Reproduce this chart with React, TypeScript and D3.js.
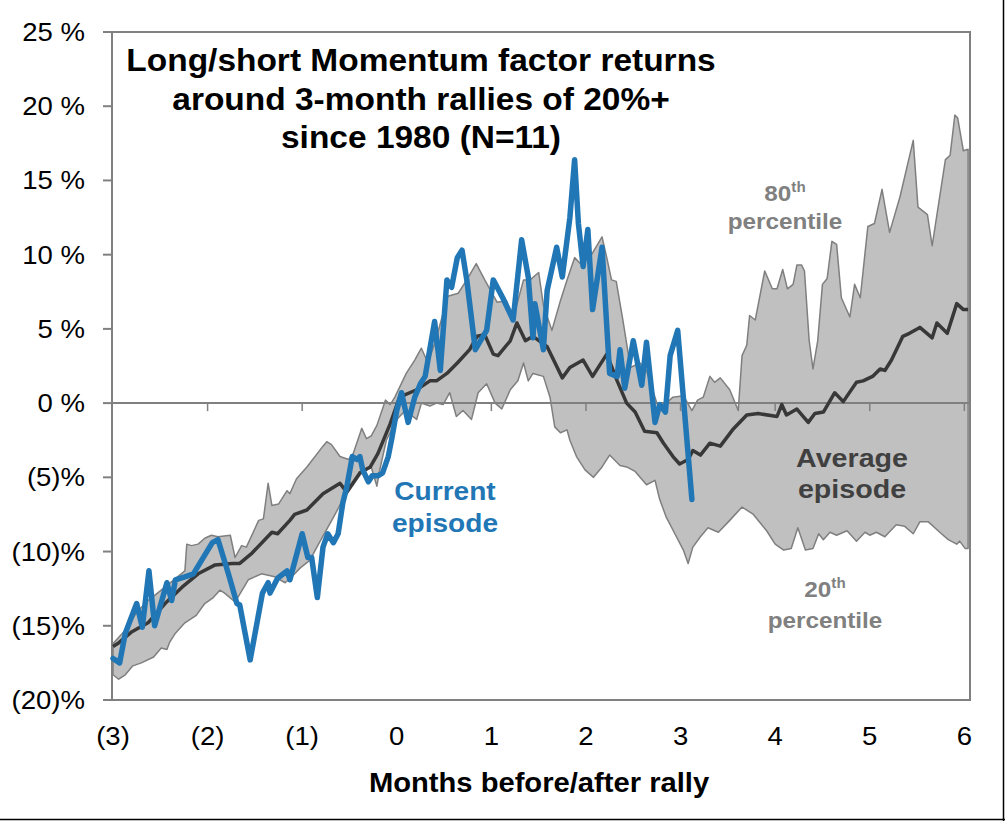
import * as d3 from 'd3';

// Months relative to the rally (x) and long/short momentum return in % (y)
const currentMonths = [-3.0, -2.93, -2.87, -2.75, -2.69, -2.62, -2.56, -2.43, -2.38, -2.34, -2.24, -2.15, -1.95, -1.89, -1.78, -1.69, -1.66, -1.55, -1.42, -1.36, -1.34, -1.26, -1.16, -1.13, -1.0, -0.94, -0.9, -0.84, -0.78, -0.73, -0.67, -0.62, -0.57, -0.53, -0.47, -0.42, -0.39, -0.36, -0.3, -0.26, -0.2, -0.15, -0.09, -0.05, 0.0, 0.05, 0.12, 0.19, 0.25, 0.3, 0.4, 0.46, 0.53, 0.58, 0.64, 0.69, 0.74, 0.83, 0.95, 1.02, 1.12, 1.23, 1.32, 1.39, 1.44, 1.46, 1.55, 1.59, 1.69, 1.75, 1.83, 1.88, 1.92, 1.97, 2.02, 2.07, 2.17, 2.25, 2.33, 2.36, 2.41, 2.5, 2.59, 2.64, 2.73, 2.78, 2.84, 2.89, 2.97, 3.12];
const currentValues = [-17.2, -17.5, -15.5, -13.5, -15.1, -11.3, -15.0, -12.1, -13.3, -11.9, -11.7, -11.5, -9.4, -9.2, -11.5, -13.5, -13.6, -17.3, -12.8, -12.1, -12.8, -11.8, -11.3, -11.9, -8.8, -10.4, -10.4, -13.1, -9.7, -8.8, -9.4, -8.8, -6.7, -5.7, -3.6, -3.8, -3.6, -4.5, -5.3, -4.9, -4.9, -4.7, -3.6, -2.3, -0.5, 0.7, -1.3, 0.4, 1.3, 1.8, 5.5, 2.2, 8.3, 7.8, 9.8, 10.3, 8.3, 3.6, 4.9, 8.3, 7.1, 5.6, 11.0, 8.5, 4.4, 6.7, 3.6, 7.6, 10.5, 8.5, 12.5, 16.4, 12.1, 9.2, 11.7, 6.3, 10.5, 2.0, 1.8, 3.6, 1.0, 4.2, 1.2, 4.1, -1.3, -0.1, -0.6, 3.2, 4.9, -6.5];

const averageMonths = [-3.0, -2.95, -2.8, -2.63, -2.45, -2.27, -2.1, -1.92, -1.74, -1.66, -1.53, -1.32, -1.26, -1.13, -1.08, -0.95, -0.78, -0.6, -0.53, -0.39, -0.28, -0.2, -0.07, 0.03, 0.21, 0.35, 0.42, 0.53, 0.64, 0.77, 0.85, 0.93, 1.02, 1.07, 1.2, 1.27, 1.36, 1.44, 1.59, 1.75, 1.83, 1.97, 2.07, 2.22, 2.33, 2.43, 2.52, 2.62, 2.75, 2.82, 2.92, 2.99, 3.08, 3.13, 3.21, 3.31, 3.42, 3.55, 3.7, 3.82, 4.02, 4.07, 4.12, 4.23, 4.35, 4.42, 4.51, 4.63, 4.72, 4.86, 4.93, 5.03, 5.11, 5.16, 5.23, 5.35, 5.42, 5.53, 5.66, 5.71, 5.82, 5.92, 5.99, 6.04];
const averageValues = [-16.4, -16.2, -15.4, -14.8, -13.5, -12.4, -11.5, -10.9, -10.8, -10.8, -10.1, -8.7, -8.8, -7.9, -7.5, -7.2, -6.1, -5.4, -6.0, -4.7, -4.3, -3.4, -1.4, 0.4, 0.9, 1.5, 1.5, 2.0, 2.7, 3.6, 4.5, 4.6, 3.3, 3.2, 4.2, 5.4, 4.2, 4.5, 3.8, 1.7, 2.4, 2.9, 1.8, 3.3, 1.5, 0.0, -0.6, -1.9, -2.0, -2.7, -3.6, -4.1, -3.8, -3.2, -3.5, -2.7, -2.9, -1.8, -0.8, -0.7, -0.9, -0.1, -0.8, -0.4, -1.3, -0.7, -0.6, 0.7, 0.1, 1.4, 1.5, 1.8, 2.3, 2.2, 2.9, 4.5, 4.7, 5.1, 4.4, 5.4, 4.7, 6.7, 6.3, 6.3];

const p80Months = [-3.0, -2.87, -2.75, -2.63, -2.45, -2.24, -2.22, -2.17, -2.1, -2.03, -1.96, -1.89, -1.76, -1.71, -1.64, -1.59, -1.46, -1.41, -1.36, -1.32, -1.25, -1.16, -1.13, -1.06, -0.95, -0.78, -0.74, -0.69, -0.6, -0.51, -0.46, -0.37, -0.32, -0.27, -0.21, -0.12, -0.07, -0.02, 0.1, 0.19, 0.26, 0.33, 0.41, 0.54, 0.65, 0.74, 0.84, 0.93, 1.06, 1.16, 1.23, 1.34, 1.41, 1.5, 1.55, 1.64, 1.73, 1.8, 1.88, 1.94, 2.04, 2.17, 2.22, 2.27, 2.32, 2.39, 2.47, 2.57, 2.64, 2.75, 2.85, 2.92, 3.03, 3.12, 3.18, 3.24, 3.31, 3.36, 3.42, 3.52, 3.61, 3.65, 3.7, 3.73, 3.79, 3.89, 3.97, 4.02, 4.08, 4.13, 4.19, 4.23, 4.28, 4.31, 4.36, 4.4, 4.45, 4.5, 4.55, 4.6, 4.65, 4.7, 4.79, 4.84, 4.9, 4.98, 5.05, 5.13, 5.21, 5.32, 5.46, 5.51, 5.61, 5.66, 5.8, 5.85, 5.9, 5.93, 5.99, 6.04];
const p80Values = [-16.2, -15.3, -14.1, -13.3, -12.4, -11.3, -9.5, -9.6, -9.5, -9.1, -8.9, -9.0, -8.9, -10.4, -9.6, -9.7, -7.9, -7.8, -5.4, -6.9, -6.8, -5.9, -6.1, -5.1, -4.3, -2.9, -2.6, -2.8, -3.6, -3.8, -3.4, -1.7, -2.4, -2.2, -1.5, 0.2, -0.1, 0.4, 2.0, 2.9, 3.7, 2.7, 4.2, 7.2, 7.4, 8.3, 9.4, 8.3, 6.8, 6.9, 5.7, 8.3, 8.3, 8.8, 6.6, 4.9, 6.9, 8.3, 9.8, 9.4, 9.8, 11.2, 9.8, 8.3, 8.2, 5.6, 2.4, 2.7, 2.2, 0.0, 0.0, 0.4, 0.5, -0.5, 0.2, 0.4, 1.8, 1.4, 1.7, 0.9, -0.5, 3.2, 3.9, 5.9, 5.6, 8.9, 7.7, 7.7, 9.0, 7.7, 8.0, 9.3, 9.3, 8.9, 4.2, 2.3, 4.2, 8.0, 8.4, 10.9, 10.7, 7.1, 5.8, 8.0, 7.1, 11.9, 12.1, 14.4, 11.5, 13.9, 17.7, 13.2, 12.7, 10.6, 16.4, 16.7, 19.4, 19.2, 17.0, 17.1];

const p20Months = [-3.0, -2.94, -2.87, -2.79, -2.7, -2.57, -2.49, -2.43, -2.4, -2.34, -2.24, -2.12, -2.03, -1.94, -1.87, -1.82, -1.71, -1.57, -1.43, -1.29, -1.18, -1.11, -1.02, -0.92, -0.81, -0.67, -0.57, -0.46, -0.35, -0.27, -0.21, -0.18, -0.11, 0.0, 0.09, 0.21, 0.26, 0.35, 0.42, 0.49, 0.56, 0.63, 0.7, 0.79, 0.86, 0.95, 1.04, 1.11, 1.2, 1.28, 1.34, 1.39, 1.44, 1.55, 1.62, 1.67, 1.73, 1.8, 1.83, 1.9, 1.99, 2.08, 2.17, 2.25, 2.36, 2.43, 2.52, 2.64, 2.73, 2.78, 2.85, 2.94, 3.03, 3.08, 3.13, 3.21, 3.29, 3.4, 3.52, 3.65, 3.77, 3.91, 4.0, 4.09, 4.17, 4.24, 4.32, 4.4, 4.46, 4.51, 4.58, 4.65, 4.76, 4.86, 4.95, 5.0, 5.07, 5.16, 5.28, 5.37, 5.46, 5.53, 5.62, 5.74, 5.83, 5.92, 5.95, 6.01, 6.04];
const p20Values = [-18.3, -18.6, -18.3, -17.7, -17.5, -17.1, -16.5, -16.6, -16.1, -15.5, -14.8, -14.3, -13.5, -13.1, -12.6, -12.8, -13.4, -11.9, -11.5, -11.7, -12.1, -11.7, -11.1, -10.6, -9.3, -7.7, -6.5, -5.5, -4.5, -4.3, -5.6, -4.5, -2.5, -1.1, -0.5, -1.1, 0.0, -0.2, 0.0, -0.1, 0.7, -0.9, -0.5, -1.1, 0.7, 1.3, 0.0, -0.4, 0.9, 1.5, 2.7, 1.5, 2.0, 1.8, 0.4, -1.6, -2.0, -1.8, -2.5, -3.6, -4.5, -5.0, -4.3, -3.5, -4.2, -4.3, -4.6, -5.5, -5.2, -6.5, -7.7, -8.8, -9.9, -10.8, -9.7, -9.0, -8.4, -8.7, -7.9, -7.0, -7.5, -8.6, -9.5, -9.9, -9.8, -8.4, -9.9, -9.8, -8.8, -9.2, -8.7, -8.9, -8.6, -9.3, -8.7, -8.9, -8.7, -9.0, -8.2, -8.3, -8.8, -8.0, -8.0, -8.7, -9.2, -9.5, -9.3, -9.8, -9.8];

const yTicks = [25, 20, 15, 10, 5, 0, -5, -10, -15, -20];
const yTickLabels = ['25 %', '20 %', '15 %', '10 %', '5 %', '0 %', '(5)%', '(10)%', '(15)%', '(20)%'];
const xTicks = [-3, -2, -1, 0, 1, 2, 3, 4, 5, 6];
const xTickLabels = ['(3)', '(2)', '(1)', '0', '1', '2', '3', '4', '5', '6'];
const titleLines = ['Long/short Momentum factor returns', 'around 3-month rallies of 20%+', 'since 1980 (N=11)'];

const FONT = 'Arial, "Liberation Sans", sans-serif';
const SX = 1.08; // the source text is a little wider than it is tall

function Label({ x, y, size, anchor = 'middle', fill = '#000', bold = false, children }: any) {
  return (
    <g transform={`translate(${x},${y}) scale(${SX},1)`}>
      <text x={0} y={0} textAnchor={anchor} fontFamily={FONT} fontSize={size} fontWeight={bold ? 'bold' : 'normal'} fill={fill}>
        {children}
      </text>
    </g>
  );
}

export default function App() {
  const x = d3.scaleLinear().domain([-3, 6.06]).range([113, 970]);
  const y = d3.scaleLinear().domain([-20, 25]).range([700, 32]);
  const left = 112;
  const right = 970;
  const top = y(25);
  const bottom = y(-20);

  const line = d3.line<[number, number]>().x(d => x(d[0])).y(d => y(d[1]));
  const upper = p80Months.map((m, i) => [m, p80Values[i]] as [number, number]);
  const lower = p20Months.map((m, i) => [m, p20Values[i]] as [number, number]);
  const bandPath = line([...upper, ...lower.slice().reverse()]) + 'Z';
  const averagePath = line(averageMonths.map((m, i) => [m, averageValues[i]] as [number, number]));
  const currentPath = line(currentMonths.map((m, i) => [m, currentValues[i]] as [number, number]));

  const axisColor = '#808080';

  return (
    <svg width={1005} height={821} style={{ position: 'absolute', left: 0, top: 0, background: '#fff' }}>
      <rect x={0} y={0} width={1005} height={821} fill="#fff" />

      {/* percentile band */}
      <path d={bandPath} fill="#C0C0C0" stroke="#7F7F7F" strokeWidth={1.5} strokeLinejoin="round" />

      {/* zero line with month ticks */}
      <line x1={left} x2={right} y1={y(0)} y2={y(0)} stroke={axisColor} strokeWidth={2} />
      {xTicks.slice(1).map(t => (
        <line key={t} x1={x(t)} x2={x(t)} y1={y(0)} y2={y(0) + 8} stroke={axisColor} strokeWidth={1.5} />
      ))}

      {/* frame */}
      <rect x={left} y={top} width={right - left} height={bottom - top} fill="none" stroke={axisColor} strokeWidth={2} />
      {yTicks.map(t => (
        <line key={t} x1={left - 9} x2={left} y1={y(t)} y2={y(t)} stroke={axisColor} strokeWidth={2} />
      ))}

      {/* series */}
      <path d={averagePath} fill="none" stroke="#383838" strokeWidth={3.5} strokeLinejoin="round" />
      <path d={currentPath} fill="none" stroke="#2176B5" strokeWidth={5.5} strokeLinejoin="round" strokeLinecap="round" />

      {/* axis labels */}
      {yTicks.map((t, i) => (
        <Label key={t} x={85} y={y(t) + 9} size={25.5} anchor="end">{yTickLabels[i]}</Label>
      ))}
      {xTicks.map((t, i) => (
        <Label key={t} x={x(t)} y={745} size={25.5}>{xTickLabels[i]}</Label>
      ))}
      <Label x={539} y={792} size={27} bold>Months before/after rally</Label>

      {/* title */}
      {titleLines.map((s, i) => (
        <Label key={s} x={421} y={71 + i * 38.5} size={31} bold>{s}</Label>
      ))}

      {/* annotations */}
      <Label x={785} y={201} size={22.5} bold fill="#808080">
        80<tspan fontSize={14} dy={-9}>th</tspan>
      </Label>
      <Label x={785} y={229} size={22.5} bold fill="#808080">percentile</Label>
      <Label x={825} y={597} size={22.5} bold fill="#808080">
        20<tspan fontSize={14} dy={-9}>th</tspan>
      </Label>
      <Label x={825} y={628} size={22.5} bold fill="#808080">percentile</Label>
      <Label x={445} y={500} size={26} bold fill="#2176B5">Current</Label>
      <Label x={445} y={532} size={26} bold fill="#2176B5">episode</Label>
      <Label x={852} y={467} size={26.5} bold fill="#404040">Average</Label>
      <Label x={852} y={498} size={26.5} bold fill="#404040">episode</Label>

      {/* outer border */}
      <line x1={1003.5} x2={1003.5} y1={0} y2={821} stroke="#000" strokeWidth={1.5} />
      <line x1={0} x2={1005} y1={819.5} y2={819.5} stroke="#000" strokeWidth={1.5} />
    </svg>
  );
}
